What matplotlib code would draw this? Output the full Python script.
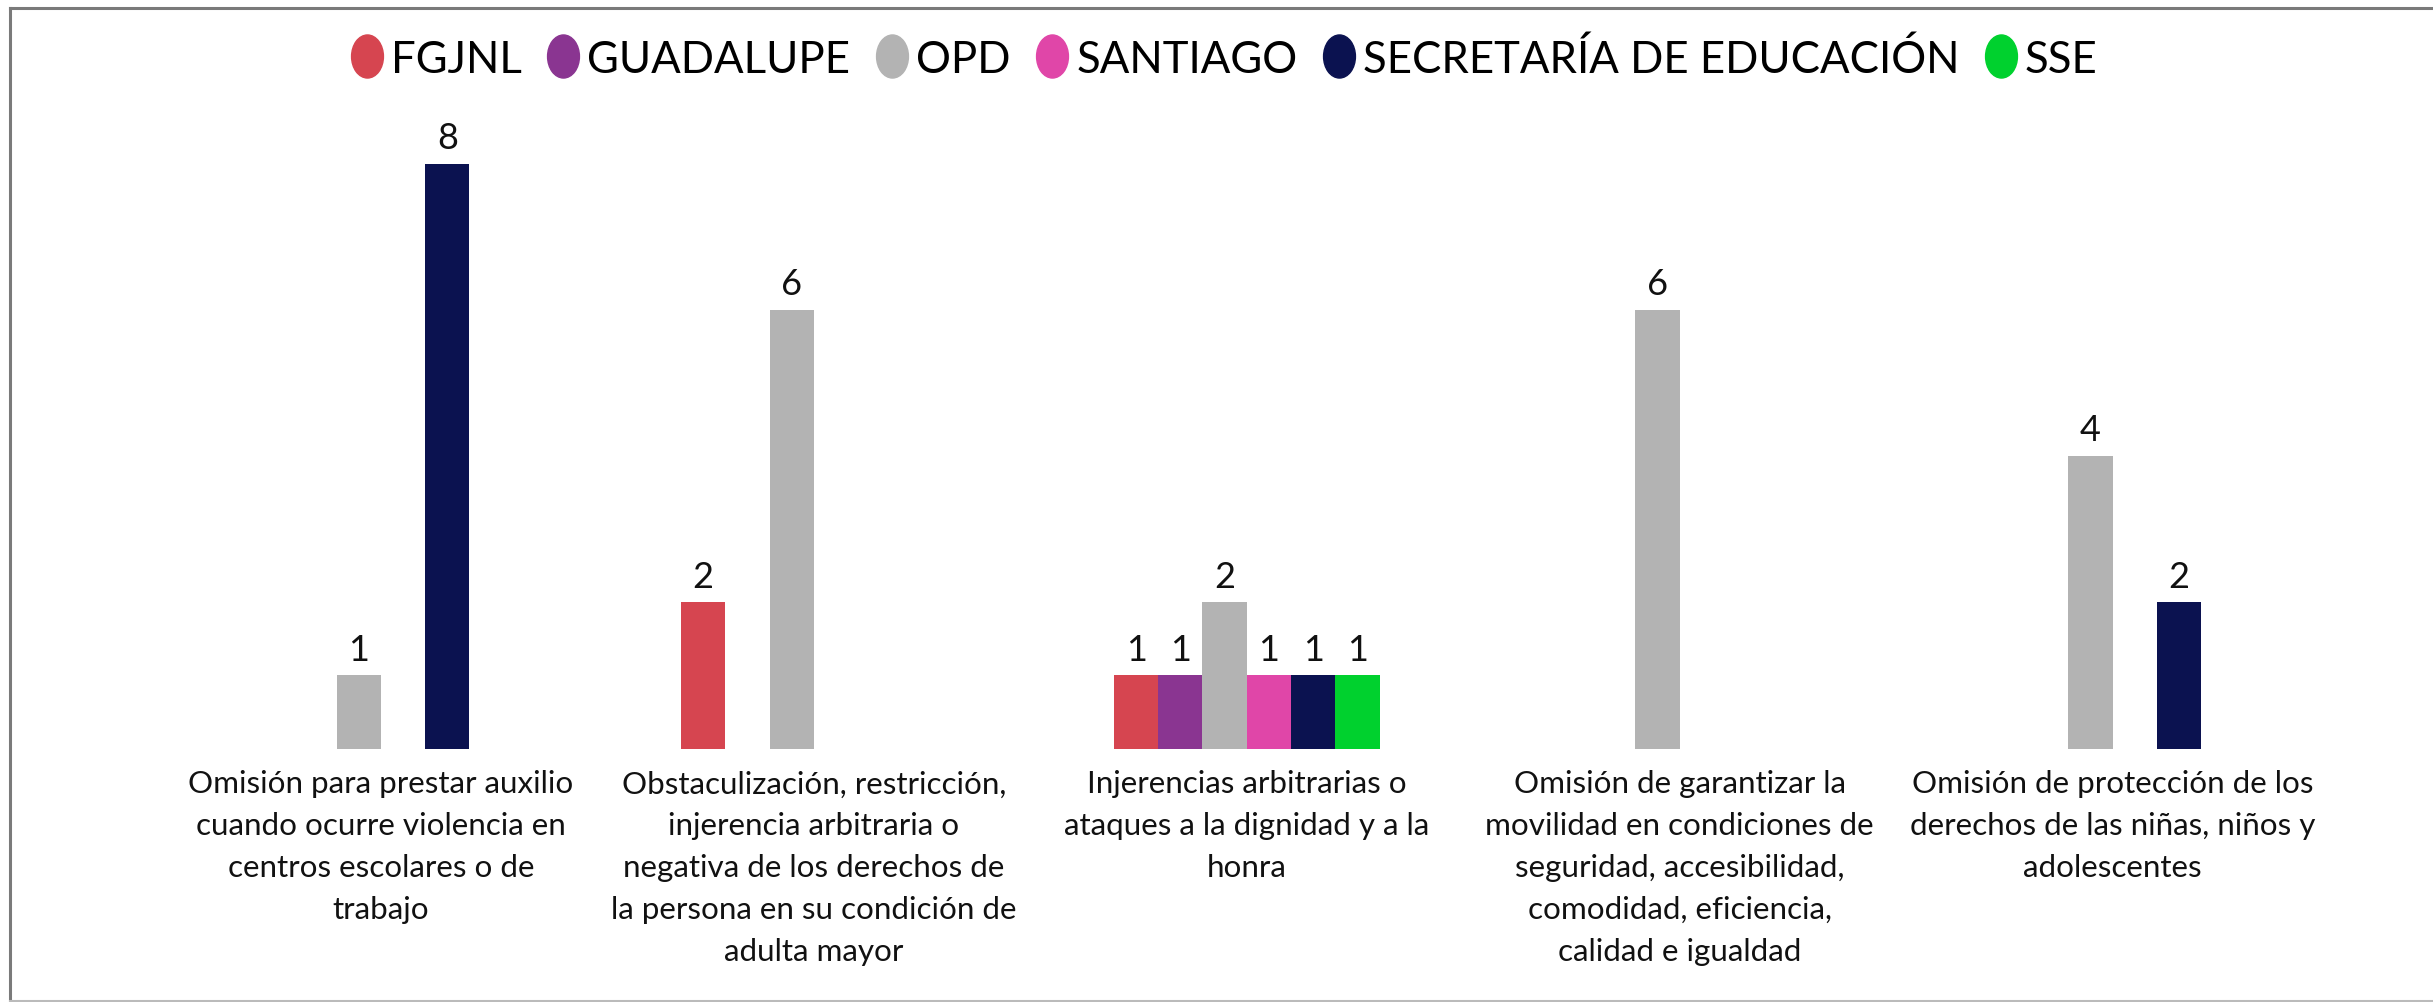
import numpy as np
import matplotlib.pyplot as plt
from matplotlib.lines import Line2D
from matplotlib.path import Path
from matplotlib.transforms import Affine2D

plt.rcParams['font.family'] = ['Lato', 'DejaVu Sans']

categories = [
    "Omisión para prestar auxilio\ncuando ocurre violencia en\ncentros escolares o de\ntrabajo",
    "Obstaculización, restricción,\ninjerencia arbitraria o\nnegativa de los derechos de\nla persona en su condición de\nadulta mayor",
    "Injerencias arbitrarias o\nataques a la dignidad y a la\nhonra",
    "Omisión de garantizar la\nmovilidad en condiciones de\nseguridad, accesibilidad,\ncomodidad, eficiencia,\ncalidad e igualdad",
    "Omisión de protección de los\nderechos de las niñas, niños y\nadolescentes",
]
series_names = ["FGJNL", "GUADALUPE", "OPD", "SANTIAGO", "SECRETARÍA DE EDUCACIÓN", "SSE"]
fgjnl = [0, 2, 1, 0, 0]
guadalupe = [0, 0, 1, 0, 0]
opd = [1, 6, 2, 6, 4]
santiago = [0, 0, 1, 0, 0]
secretaria = [8, 0, 1, 0, 2]
sse = [0, 0, 1, 0, 0]
colors = ["#D64550", "#8A3591", "#B3B3B3", "#E046A8", "#0B1250", "#00D12E"]

all_series = [fgjnl, guadalupe, opd, santiago, secretaria, sse]

W, H = 2433, 1003
fig = plt.figure(figsize=(W / 100, H / 100), dpi=100)
ax = fig.add_axes([164.5 / W, (H - 749.5) / H, (2329 - 164.5) / W, (749.5 - 91.5) / H])

x = np.arange(len(categories))
w = 0.6134 / 6
for k, (vals, col) in enumerate(zip(all_series, colors)):
    xs = x + (k - 2.5) * w
    ax.bar(xs, vals, width=w, color=col, zorder=2)
    for xi, v in zip(xs, vals):
        if v:
            ax.annotate(str(v), (xi, v), xytext=(0, 7), textcoords='offset points',
                        ha='center', va='bottom', fontsize=26, color='#111111')

ax.set_xlim(-0.5, 4.5)
ax.set_ylim(0, 9)
ax.set_yticks([])
ax.set_xticks(x)
ax.set_xticklabels(categories, fontsize=22.6, linespacing=1.6, color='#111111')
ax.tick_params(axis='x', length=0, pad=15)
for s in ax.spines.values():
    s.set_visible(False)

# legend with oval markers
oval = Path.unit_circle().transformed(Affine2D().scale(0.74, 1.0))
handles = [Line2D([], [], marker=oval, linestyle='none', markersize=31,
                  markerfacecolor=c, markeredgecolor=c) for c in colors]
fig.legend(handles, series_names, loc='center', bbox_to_anchor=(0.502, 1 - 60 / H),
           ncol=6, frameon=False, fontsize=31.5, handletextpad=0.05, columnspacing=0.45,
           handlelength=1.0)

# outer frame (left, top, bottom)
fig.add_artist(Line2D([10.5 / W, 10.5 / W], [1 - 9 / H, 1 - 1001 / H], color='#7a7a7a', lw=2.2))
fig.add_artist(Line2D([10.5 / W, 1], [1 - 9 / H, 1 - 9 / H], color='#7a7a7a', lw=2.2))
fig.add_artist(Line2D([10.5 / W, 1], [1 - 1001.5 / H, 1 - 1001.5 / H], color='#bbbbbb', lw=1.5))

fig.savefig('out.png', dpi=100)
